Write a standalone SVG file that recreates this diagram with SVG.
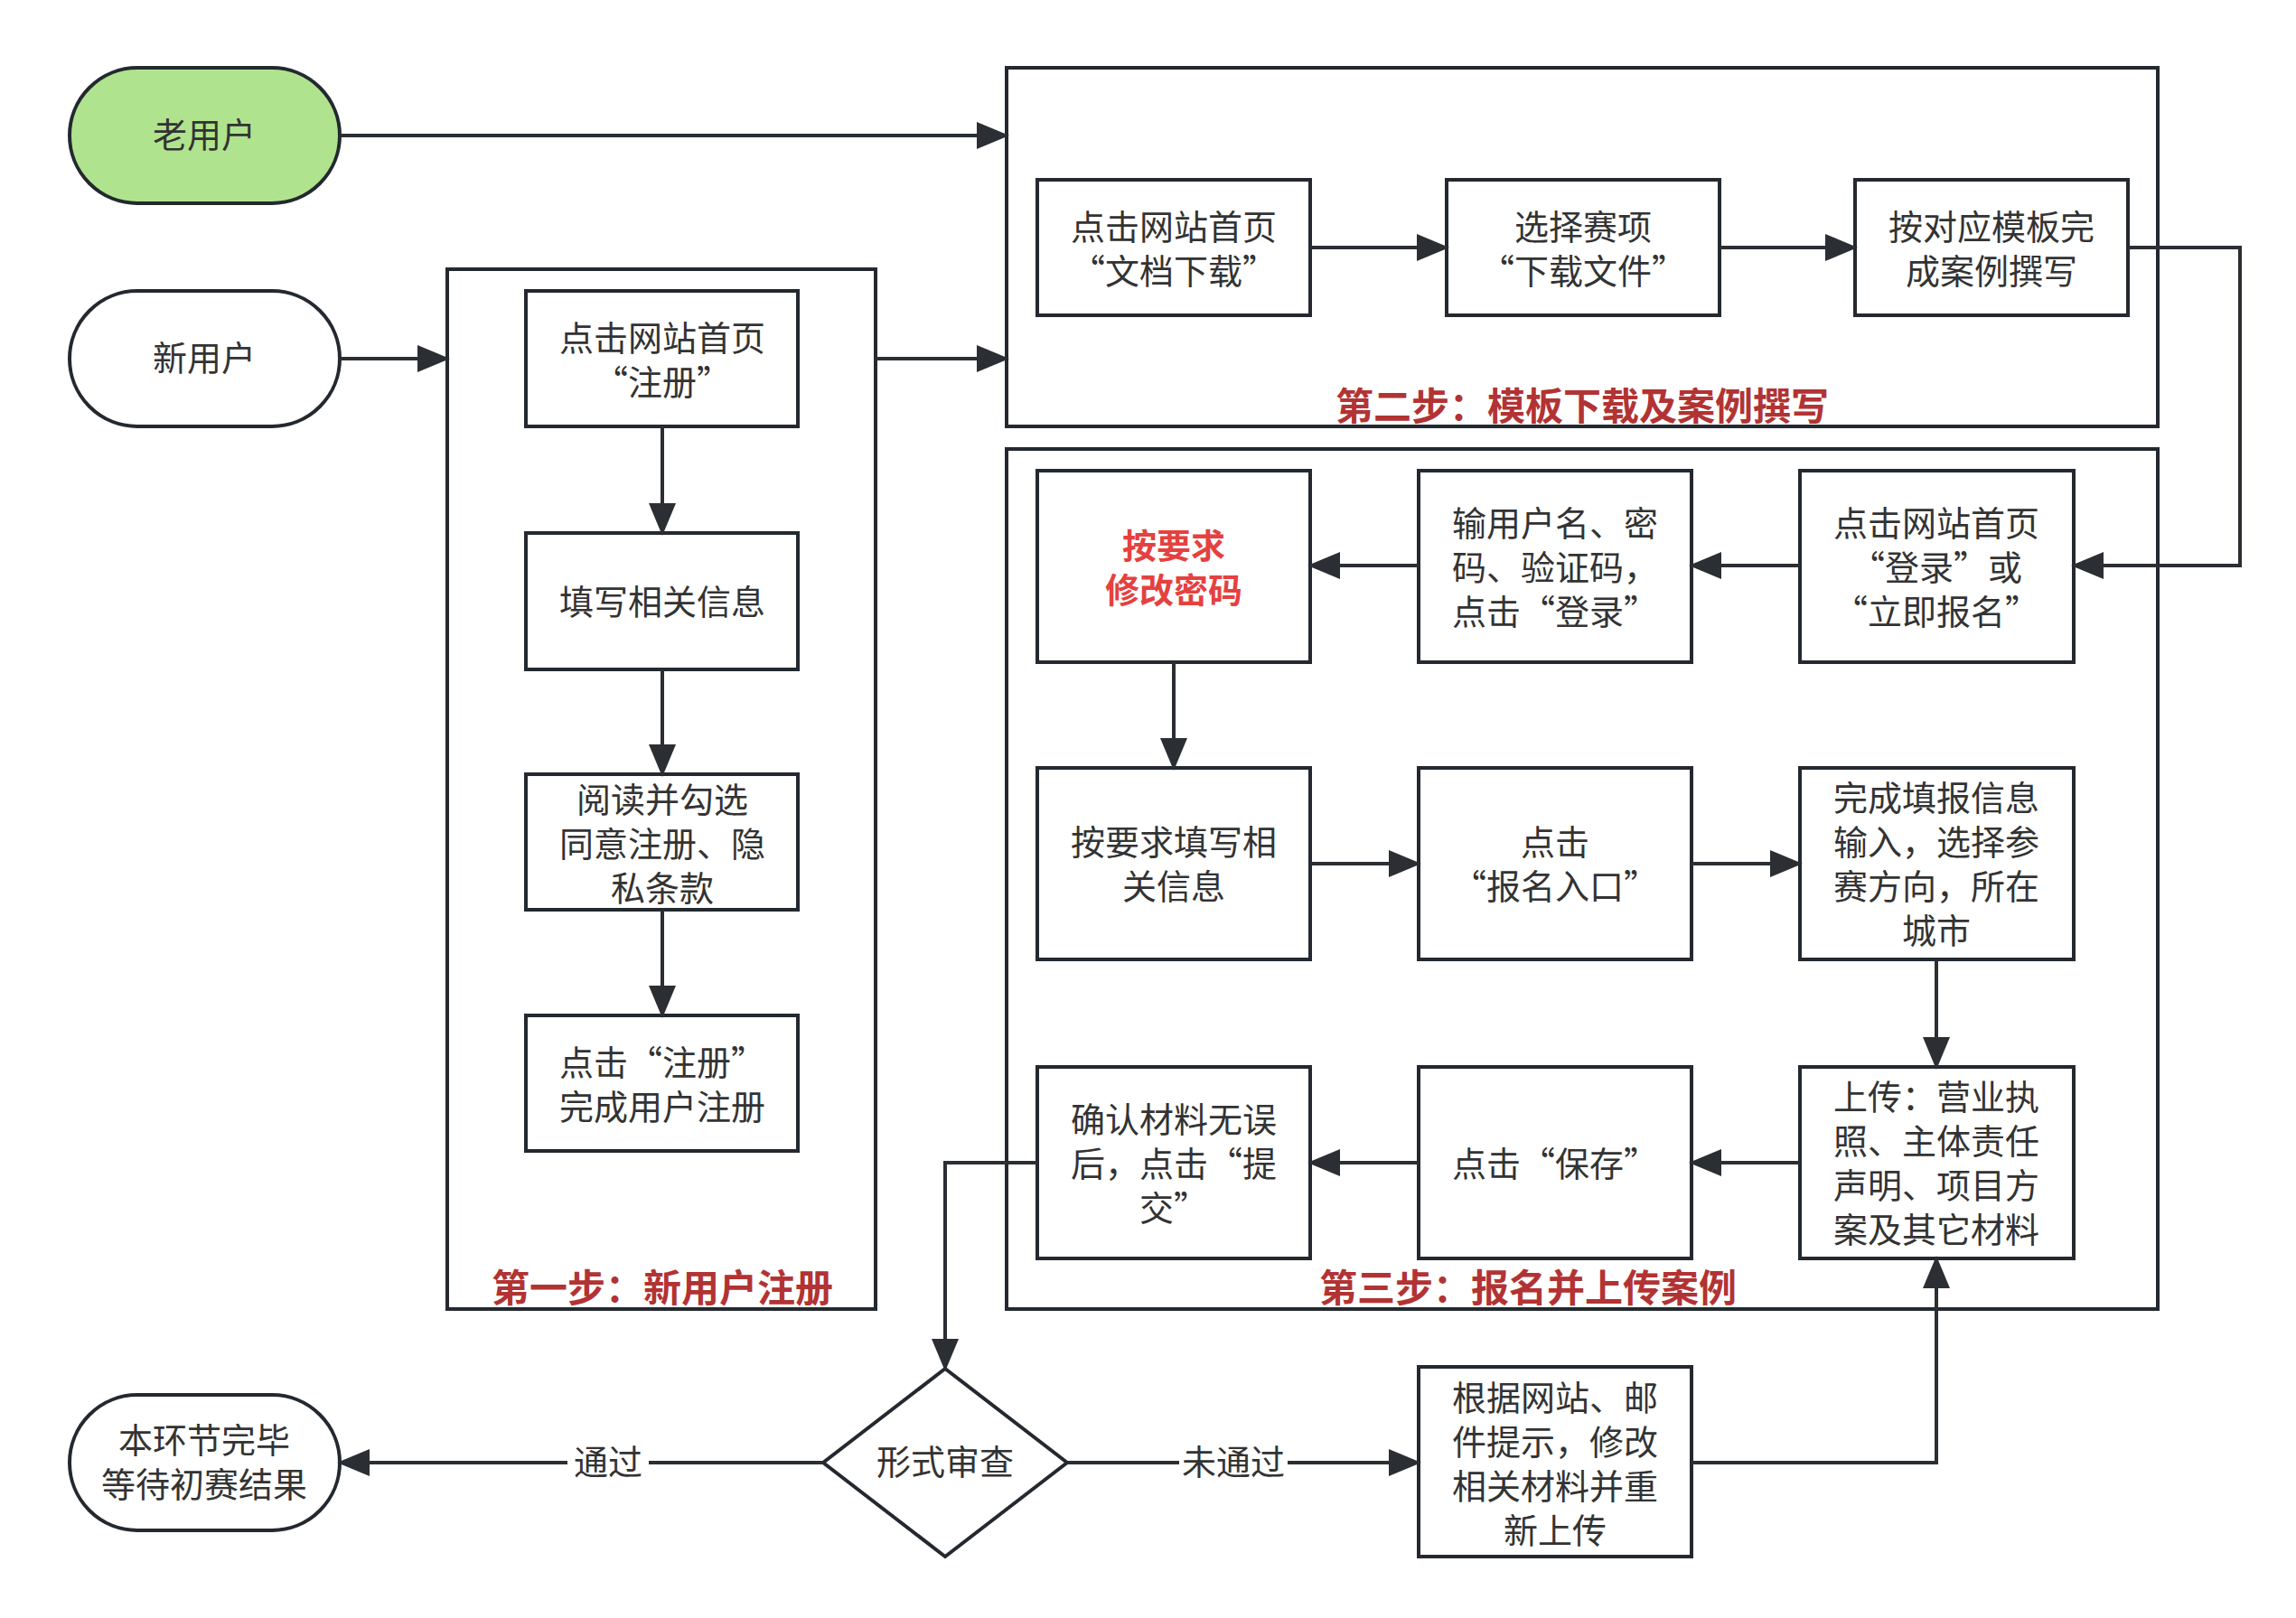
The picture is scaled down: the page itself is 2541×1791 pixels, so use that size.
<svg xmlns="http://www.w3.org/2000/svg" width="2541" height="1791" viewBox="0 0 2541 1791">
<style>
.b{fill:#fff;stroke:#23292f;stroke-width:4}
.t{font-family:"Noto Sans CJK SC",sans-serif;font-size:38px;fill:#333;text-anchor:middle}
.lb{font-family:"Noto Sans CJK SC",sans-serif;font-size:42px;font-weight:bold;fill:#b23333;text-anchor:middle}
.c{fill:none;stroke:#2b2f33;stroke-width:4}
</style>
<defs><marker id="a" markerWidth="12" markerHeight="10" refX="11" refY="5" orient="auto" markerUnits="userSpaceOnUse" viewBox="0 0 12 10"><path d="M0,0L12,5L0,10z" fill="#2b2f33"/></marker>
<marker id="m" viewBox="0 0 12 10" refX="11" refY="5" markerWidth="36" markerHeight="30" orient="auto" markerUnits="userSpaceOnUse"><path d="M0,0L12,5L0,10z" fill="#2b2f33"/></marker></defs>
<rect width="2541" height="1791" fill="#fff"/>
<g id="step1"><rect class="b" x="495" y="298" width="474" height="1151"/><text class="lb" x="733" y="1441">第一步：新用户注册</text></g>
<g id="step2"><rect class="b" x="1114" y="75" width="1274" height="397"/><text class="lb" x="1751" y="465">第二步：模板下载及案例撰写</text></g>
<g id="step3"><rect class="b" x="1114" y="497" width="1274" height="952"/><text class="lb" x="1691" y="1441">第三步：报名并上传案例</text></g>
<g id="old"><rect x="77" y="75" width="299" height="150" rx="75" fill="#b0e38e" stroke="#23292f" stroke-width="4"/><text class="t" x="226" y="163">老用户</text></g>
<g id="new"><rect class="b" x="77" y="322" width="299" height="150" rx="75"/><text class="t" x="226" y="410">新用户</text></g>
<g id="end"><rect class="b" x="77" y="1544" width="299" height="150" rx="75"/><text class="t" x="226" y="1608">本环节完毕</text><text class="t" x="226" y="1657">等待初赛结果</text></g>
<g id="s1a"><rect class="b" x="582" y="322" width="301" height="150"/><text class="t" x="733" y="388">点击网站首页</text><text class="t" x="733" y="437">“注册”</text></g>
<g id="s1b"><rect class="b" x="582" y="590" width="301" height="151"/><text class="t" x="733" y="680">填写相关信息</text></g>
<g id="s1c"><rect class="b" x="582" y="857" width="301" height="150"/><text class="t" x="733" y="899">阅读并勾选</text><text class="t" x="733" y="948">同意注册、隐</text><text class="t" x="733" y="997">私条款</text></g>
<g id="s1d"><rect class="b" x="582" y="1124" width="301" height="150"/><text class="t" x="733" y="1190">点击“注册”</text><text class="t" x="733" y="1239">完成用户注册</text></g>
<g id="s2a"><rect class="b" x="1148" y="199" width="302" height="150"/><text class="t" x="1299" y="265">点击网站首页</text><text class="t" x="1299" y="314">“文档下载”</text></g>
<g id="s2b"><rect class="b" x="1601" y="199" width="302" height="150"/><text class="t" x="1752" y="265">选择赛项</text><text class="t" x="1752" y="314">“下载文件”</text></g>
<g id="s2c"><rect class="b" x="2053" y="199" width="302" height="150"/><text class="t" x="2204" y="265">按对应模板完</text><text class="t" x="2204" y="314">成案例撰写</text></g>
<g id="r1a"><rect class="b" x="1148" y="521" width="302" height="212"/><text class="t" x="1299" y="618" style="fill:#e5413f;font-weight:bold">按要求</text><text class="t" x="1299" y="667" style="fill:#e5413f;font-weight:bold">修改密码</text></g>
<g id="r1b"><rect class="b" x="1570" y="521" width="302" height="212"/><text class="t" x="1721" y="593">输用户名、密</text><text class="t" x="1721" y="642">码、验证码，</text><text class="t" x="1721" y="691">点击“登录”</text></g>
<g id="r1c"><rect class="b" x="1992" y="521" width="303" height="212"/><text class="t" x="2143" y="593">点击网站首页</text><text class="t" x="2143" y="642">“登录”或</text><text class="t" x="2143" y="691">“立即报名”</text></g>
<g id="r2a"><rect class="b" x="1148" y="850" width="302" height="212"/><text class="t" x="1299" y="946">按要求填写相</text><text class="t" x="1299" y="995">关信息</text></g>
<g id="r2b"><rect class="b" x="1570" y="850" width="302" height="212"/><text class="t" x="1721" y="946">点击</text><text class="t" x="1721" y="995">“报名入口”</text></g>
<g id="r2c"><rect class="b" x="1992" y="850" width="303" height="212"/><text class="t" x="2143" y="897">完成填报信息</text><text class="t" x="2143" y="946">输入，选择参</text><text class="t" x="2143" y="995">赛方向，所在</text><text class="t" x="2143" y="1044">城市</text></g>
<g id="r3a"><rect class="b" x="1148" y="1181" width="302" height="212"/><text class="t" x="1299" y="1253">确认材料无误</text><text class="t" x="1299" y="1302">后，点击“提</text><text class="t" x="1299" y="1351">交”</text></g>
<g id="r3b"><rect class="b" x="1570" y="1181" width="302" height="212"/><text class="t" x="1721" y="1302">点击“保存”</text></g>
<g id="r3c"><rect class="b" x="1992" y="1181" width="303" height="212"/><text class="t" x="2143" y="1228">上传：营业执</text><text class="t" x="2143" y="1277">照、主体责任</text><text class="t" x="2143" y="1326">声明、项目方</text><text class="t" x="2143" y="1375">案及其它材料</text></g>
<g id="dia"><path class="b" d="M1046,1515L1181,1619L1046,1723L911,1619z"/><text class="t" x="1046" y="1632">形式审查</text></g>
<g id="fix"><rect class="b" x="1570" y="1513" width="302" height="210"/><text class="t" x="1721" y="1561">根据网站、邮</text><text class="t" x="1721" y="1610">件提示，修改</text><text class="t" x="1721" y="1659">相关材料并重</text><text class="t" x="1721" y="1708">新上传</text></g>
<g id="connectors" class="c">
<path marker-end="url(#m)" d="M376,150H1114"/>
<path marker-end="url(#m)" d="M376,397H495"/>
<path marker-end="url(#m)" d="M969,397H1114"/>
<path marker-end="url(#m)" d="M733,472V590"/>
<path marker-end="url(#m)" d="M733,741V857"/>
<path marker-end="url(#m)" d="M733,1007V1124"/>
<path marker-end="url(#m)" d="M1450,274H1601"/>
<path marker-end="url(#m)" d="M1903,274H2053"/>
<path marker-end="url(#m)" d="M2355,274H2479V626H2295"/>
<path marker-end="url(#m)" d="M1992,626H1872"/>
<path marker-end="url(#m)" d="M1570,626H1450"/>
<path marker-end="url(#m)" d="M1299,733V850"/>
<path marker-end="url(#m)" d="M1450,956H1570"/>
<path marker-end="url(#m)" d="M1872,956H1992"/>
<path marker-end="url(#m)" d="M2143,1062V1181"/>
<path marker-end="url(#m)" d="M1992,1287H1872"/>
<path marker-end="url(#m)" d="M1570,1287H1450"/>
<path marker-end="url(#m)" d="M1148,1287H1046V1515"/>
<path marker-end="url(#m)" d="M911,1619H376"/>
<path marker-end="url(#m)" d="M1181,1619H1570"/>
<path marker-end="url(#m)" d="M1872,1619H2143V1393"/>
</g>
<g id="edge-labels">
<rect x="628" y="1596" width="90" height="46" fill="#fff"/><text class="t" x="673" y="1632">通过</text>
<rect x="1305" y="1596" width="120" height="46" fill="#fff"/><text class="t" x="1365" y="1632">未通过</text>
</g>
</svg>
